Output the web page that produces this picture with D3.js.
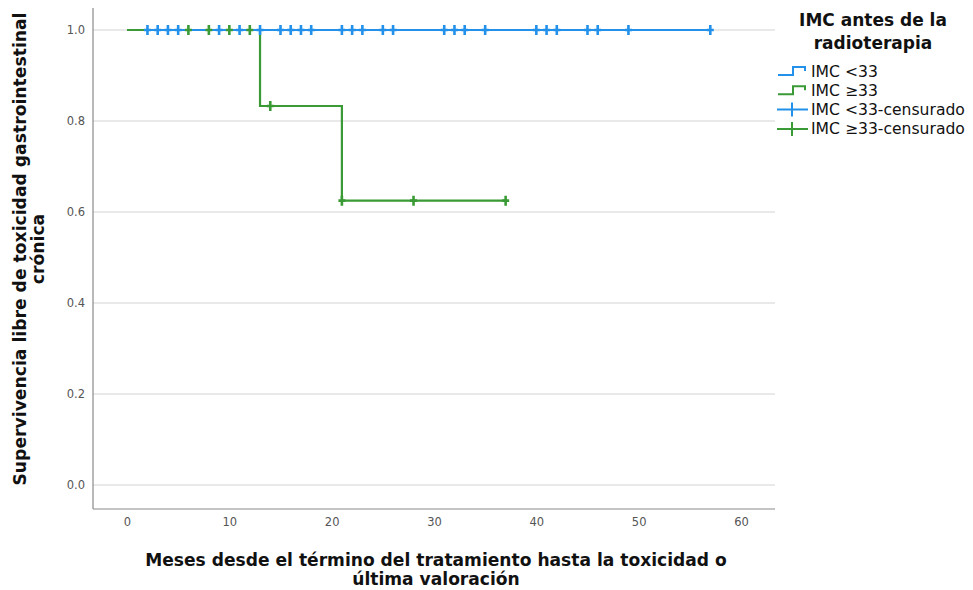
<!DOCTYPE html>
<html>
<head>
<meta charset="utf-8">
<script src="https://cdn.jsdelivr.net/npm/d3@7"></script>
<style>
  html, body { margin: 0; padding: 0; background: #fff; }
  svg { display: block; }
</style>
</head>
<body>
<svg id="chart" width="973" height="590"></svg>
<script>
// Kaplan–Meier: supervivencia libre de toxicidad gastrointestinal crónica por IMC
const grupos = ["IMC <33", "IMC \u226533"];
const colores = ["#2391ea", "#3a9a35"];

// IMC <33: sin eventos, solo censuras (meses)
const imcBajoEventos = [];
const imcBajoSupervivencia = [];
const imcBajoCensuras = [2, 3, 4, 5, 9, 11, 13, 15, 16, 17, 18, 21, 22, 23, 25, 26,
                         31, 32, 33, 35, 40, 41, 42, 45, 46, 49, 57];

// IMC ≥33: eventos y censuras (meses)
const imcAltoEventos = [13, 21];
const imcAltoSupervivencia = [0.833, 0.625];
const imcAltoCensuras = [6, 8, 10, 12, 14, 21, 28, 37];

const ticksX = [0, 10, 20, 30, 40, 50, 60];
const ticksY = [0.0, 0.2, 0.4, 0.6, 0.8, 1.0];

const svg = d3.select("#chart");
const plot = { left: 93, right: 775, top: 8, bottom: 509 };

const x = d3.scaleLinear().domain([0, 60]).range([127, 741]);
const y = d3.scaleLinear().domain([0, 1]).range([485, 30]);

// Survival at time t from the step function
function supervivencia(eventos, valores, t) {
  let s = 1;
  eventos.forEach((e, i) => { if (e <= t) s = valores[i]; });
  return s;
}

// Step curve points from start time to last observation
function curva(eventos, valores, censuras, inicio) {
  const fin = d3.max(censuras.concat(eventos));
  const pts = [[inicio, 1]];
  eventos.forEach((e, i) => {
    pts.push([e, supervivencia(eventos, valores, e - 1e-9)]);
    pts.push([e, valores[i]]);
  });
  pts.push([fin, supervivencia(eventos, valores, fin)]);
  return pts;
}

// Grid lines
svg.append("g")
  .selectAll("line")
  .data(ticksY)
  .join("line")
  .attr("x1", plot.left).attr("x2", plot.right)
  .attr("y1", d => y(d)).attr("y2", d => y(d))
  .attr("stroke", "#d4d4d4").attr("stroke-width", 1.2);

// Axis frame
svg.append("line")
  .attr("x1", plot.left).attr("x2", plot.left)
  .attr("y1", plot.top).attr("y2", plot.bottom)
  .attr("stroke", "#8a8a8a").attr("stroke-width", 1.2);
svg.append("line")
  .attr("x1", plot.left).attr("x2", plot.right)
  .attr("y1", plot.bottom).attr("y2", plot.bottom)
  .attr("stroke", "#8a8a8a").attr("stroke-width", 1.2);

const fuente = "DejaVu Sans, sans-serif";

// Axes
const axisY = d3.axisLeft(y).tickValues(ticksY).tickFormat(d3.format(".1f")).tickSize(0).tickPadding(8);
const gy = svg.append("g").attr("transform", `translate(${plot.left},0)`).call(axisY);
gy.select(".domain").remove();
gy.selectAll("text").attr("font-family", fuente).attr("font-size", 11.5).attr("fill", "#555");

const axisX = d3.axisBottom(x).tickValues(ticksX).tickFormat(d3.format("d")).tickSize(0).tickPadding(9);
const gx = svg.append("g").attr("transform", `translate(0,${plot.bottom})`).call(axisX);
gx.select(".domain").remove();
gx.selectAll("text").attr("font-family", fuente).attr("font-size", 11.5).attr("fill", "#555");

const linea = d3.line().x(d => x(d[0])).y(d => y(d[1])).curve(d3.curveLinear);

// Curves
const datosAlto = curva(imcAltoEventos, imcAltoSupervivencia, imcAltoCensuras, 0);
const datosBajo = curva(imcBajoEventos, imcBajoSupervivencia, imcBajoCensuras, imcBajoCensuras[0]);

svg.append("path").datum(datosAlto).attr("d", linea)
  .attr("fill", "none").attr("stroke", colores[1]).attr("stroke-width", 2.2);
svg.append("path").datum(datosBajo).attr("d", linea)
  .attr("fill", "none").attr("stroke", colores[0]).attr("stroke-width", 2.2);

// Censor marks drawn as small crosses
function censuras(tiempos, eventos, valores, color) {
  const g = svg.append("g").attr("stroke", color).attr("fill", "none");
  g.selectAll("path")
    .data(tiempos)
    .join("path")
    .attr("d", d => {
      const cx = x(d), cy = y(supervivencia(eventos, valores, d));
      return `M${cx},${cy - 5}V${cy + 5}M${cx - 3.5},${cy}H${cx + 3.5}`;
    })
    .attr("stroke-width", 2.6);
}
censuras(imcBajoCensuras, imcBajoEventos, imcBajoSupervivencia, colores[0]);
censuras(imcAltoCensuras, imcAltoEventos, imcAltoSupervivencia, colores[1]);

// Axis titles
const tx = svg.append("text").attr("text-anchor", "middle")
  .attr("font-family", fuente).attr("font-weight", 700).attr("font-size", 17.1).attr("fill", "#111");
tx.append("tspan").attr("x", 436).attr("y", 566).text("Meses desde el t\u00e9rmino del tratamiento hasta la toxicidad o");
tx.append("tspan").attr("x", 436).attr("y", 585).text("\u00faltima valoraci\u00f3n");

const ty = svg.append("text").attr("text-anchor", "middle")
  .attr("transform", "translate(0,249) rotate(-90)")
  .attr("font-family", fuente).attr("font-weight", 700).attr("font-size", 17.2).attr("fill", "#111");
ty.append("tspan").attr("x", 0).attr("y", 26).text("Supervivencia libre de toxicidad gastrointestinal");
ty.append("tspan").attr("x", 0).attr("y", 44).text("cr\u00f3nica");

// Legend
const lg = svg.append("g");
const lt = lg.append("text").attr("text-anchor", "middle")
  .attr("font-family", fuente).attr("font-weight", 700).attr("font-size", 17).attr("fill", "#111");
lt.append("tspan").attr("x", 873).attr("y", 26).text("IMC antes de la");
lt.append("tspan").attr("x", 873).attr("y", 49).text("radioterapia");

const items = [
  { texto: grupos[0], color: colores[0], tipo: "paso" },
  { texto: grupos[1], color: colores[1], tipo: "paso" },
  { texto: grupos[0] + "-censurado", color: colores[0], tipo: "cruz" },
  { texto: grupos[1] + "-censurado", color: colores[1], tipo: "cruz" }
];
items.forEach((it, i) => {
  const cy = 71 + i * 19.3;
  if (it.tipo === "paso") {
    lg.append("path")
      .attr("d", `M778,${cy + 4}H793V${cy - 4}H805V${cy}`)
      .attr("fill", "none").attr("stroke", it.color).attr("stroke-width", 2);
  } else {
    lg.append("path")
      .attr("d", `M777,${cy}H808M792,${cy - 7}V${cy + 7}`)
      .attr("fill", "none").attr("stroke", it.color).attr("stroke-width", 2);
  }
  lg.append("text").attr("x", 811).attr("y", cy + 5.5)
    .attr("font-family", fuente).attr("font-size", 15.6).attr("fill", "#111")
    .text(it.texto);
});
</script>
</body>
</html>
